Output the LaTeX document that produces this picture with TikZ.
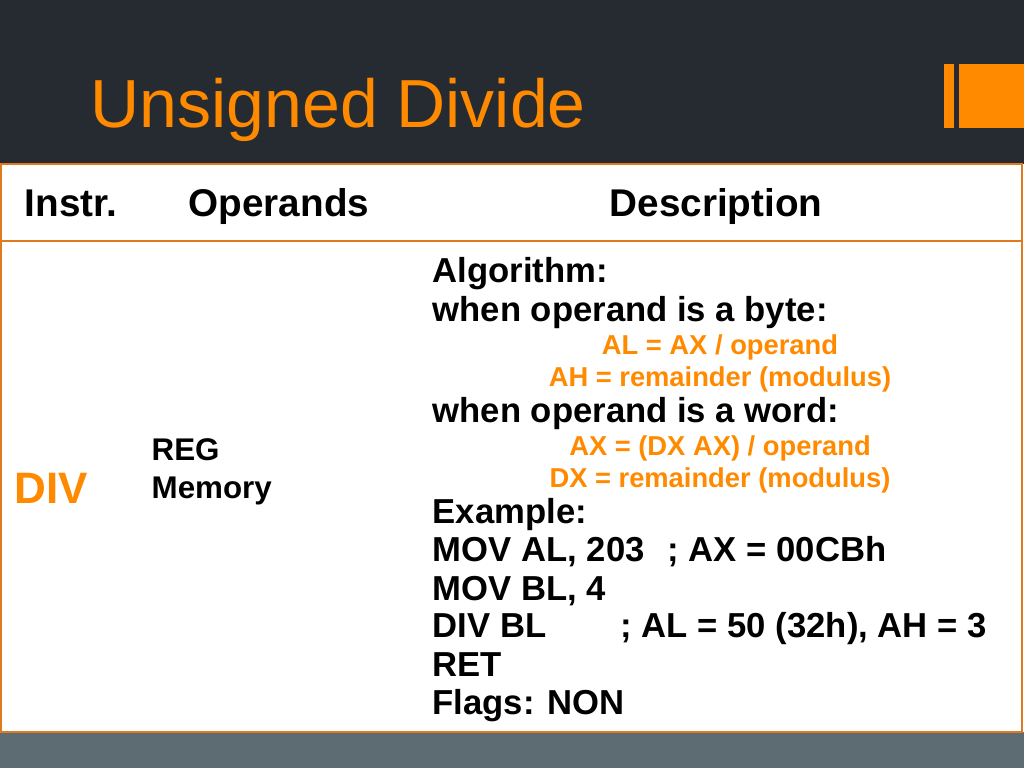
\documentclass[tikz,border=0pt]{standalone}
\usepackage{fontspec}
\setmainfont{Liberation Sans}
\definecolor{headbg}{HTML}{262B31}
\definecolor{footbg}{HTML}{5D6B73}
\definecolor{accent}{HTML}{FF8A00}
\definecolor{rule}{HTML}{E07A1F}
\tikzset{
  head/.style={anchor=base west, font=\fontsize{29}{34}\selectfont\bfseries},
  body/.style={anchor=base west, font=\fontsize{26}{30}\selectfont\bfseries},
  note/.style={anchor=base, text=accent, font=\fontsize{20.5}{24}\selectfont\bfseries}
}
\begin{document}
\begin{tikzpicture}[x=0.75pt,y=-0.75pt]
  \useasboundingbox (0,0) rectangle (1024,768);
  % bands
  \fill[headbg] (0,0) rectangle (1024,164);
  \fill[footbg] (0,732) rectangle (1024,768);
  \fill[accent] (944,64) rectangle (954,128);
  \fill[accent] (959,64) rectangle (1024,128);
  \node[anchor=base west, text=accent, font=\fontsize{51}{60}\selectfont] (title) at (86,127) {Unsigned Divide};
  % table
  \draw[rule, line width=0.9pt] (1,164) rectangle (1022,732);
  \draw[rule, line width=0.9pt] (1,241) -- (1022,241);
  \node[head] (instr) at (20,216) {Instr.};
  \node[head] (opnds) at (184,216) {Operands};
  \node[head] (descr) at (605,216) {Description};
  \node[anchor=base west, text=accent, font=\fontsize{33}{38}\selectfont\bfseries] (div) at (10,503) {DIV};
  \node[body, font=\fontsize{23.5}{28}\selectfont\bfseries] (reg) at (147,460) {REG};
  \node[body, font=\fontsize{23.5}{28}\selectfont\bfseries] (mem) at (147,498) {Memory};
  % description
  \node[body] (alg) at (428,282) {Algorithm:};
  \node[body] (byte) at (428,321) {when operand is a byte:};
  \node[note] (b1) at (720,354) {AL = AX / operand};
  \node[note] (b2) at (720,386) {AH = remainder (modulus)};
  \node[body] (word) at (428,422) {when operand is a word:};
  \node[note] (w1) at (720,455) {AX = (DX AX) / operand};
  \node[note] (w2) at (720,487) {DX = remainder (modulus)};
  \node[body] (ex) at (428,523) {Example:};
  \node[body] (l1) at (428,561) {MOV AL, 203};
  \node[body] (c1) at (663,561) {; AX = 00CBh};
  \node[body] (l2) at (428,600) {MOV BL, 4};
  \node[body] (l3) at (428,637) {DIV BL};
  \node[body] (c3) at (616,637) {; AL = 50 (32h), AH = 3};
  \node[body] (l4) at (428,676) {RET};
  \node[body] (fl) at (428,714) {Flags: NON};
\end{tikzpicture}
\end{document}
